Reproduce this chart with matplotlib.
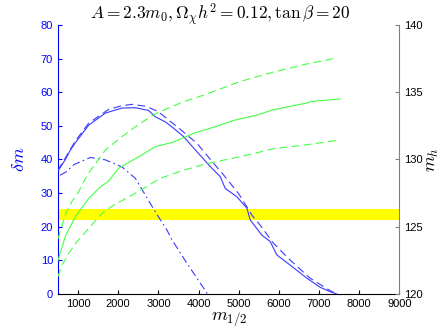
import matplotlib
matplotlib.use('Agg')
import matplotlib.pyplot as plt

plt.rcParams['font.family'] = ['Liberation Sans', 'DejaVu Sans']
plt.rcParams['mathtext.fontset'] = 'cm'

# blue curves: delta m (left axis)
m_solid = [500, 684, 808, 933, 1264, 1679, 2095, 2426, 2754, 2923, 3172, 3379, 3627, 3961,
           4292, 4540, 4665, 4956, 5205, 5287, 5578, 5784, 5951, 6280, 6698, 7026, 7275, 7444]
dm_solid = [36.6, 40.0, 42.8, 45.0, 50.2, 53.8, 55.3, 55.4, 54.6, 52.7, 51.2, 49.3, 46.8, 42.3,
            37.9, 34.9, 31.4, 28.9, 25.5, 22.0, 17.5, 15.6, 11.6, 8.6, 4.7, 2.0, 0.7, 0.0]

m_dash = [500, 684, 933, 1264, 1761, 2093, 2344, 2700, 3003, 3254, 3463, 3961, 4374, 4623,
          4996, 5326, 5533, 5865, 6280, 6778, 7275, 7444]
dm_dash = [36.8, 40.5, 45.5, 50.8, 54.9, 56.0, 56.4, 55.8, 54.2, 51.7, 49.8, 44.8, 38.9, 35.4,
           29.9, 23.5, 20.5, 15.1, 10.1, 4.7, 1.0, 0.0]

m_dashdot = [550, 700, 900, 1306, 1677, 2093, 2425, 2921, 3214, 3339, 3712, 4225]
dm_dashdot = [35.3, 36.3, 38.5, 40.6, 39.9, 37.8, 34.4, 24.5, 19.0, 16.1, 9.1, 0.0]

# green curves: m_h (right axis)
m_gup = [500, 684, 850, 1015, 1137, 1264, 1677, 2093, 2507, 2921, 3627, 4045, 5040, 5865, 6695, 7360]
mh_gup = [124.1, 125.9, 126.9, 127.6, 128.35, 129.0, 130.7, 131.7, 132.6, 133.4, 134.3, 134.7,
          135.8, 136.5, 137.1, 137.5]

m_gmid = [500, 684, 933, 1264, 1513, 1761, 2010, 2507, 2921, 3379, 3876, 4374, 4871, 5453,
          5865, 6695, 6778, 7524]
mh_gmid = [122.5, 124.3, 125.75, 127.1, 127.85, 128.4, 129.35, 130.2, 130.95, 131.3, 131.95,
           132.4, 132.9, 133.3, 133.7, 134.2, 134.3, 134.5]

m_glow = [500, 602, 764, 975, 1182, 1597, 1886, 2548, 3045, 3627, 4209, 4871, 5453, 5865, 6695, 7524]
mh_glow = [121.3, 122.15, 123.0, 123.9, 124.6, 126.0, 126.6, 127.7, 128.6, 129.2, 129.7, 130.1,
           130.5, 130.8, 131.1, 131.45]

band_dm = (22.0, 25.2)

blue = '#3a3aff'
green = '#44ff44'

fig = plt.figure(figsize=(4.41, 3.32), dpi=100)
ax = fig.add_axes([0.1315, 0.1145, 0.774, 0.8102])
ax2 = ax.twinx()

ax.axhspan(band_dm[0], band_dm[1], color='#ffff00', lw=0, zorder=1)
ax.plot(m_solid, dm_solid, color=blue, lw=0.8, zorder=3)
ax.plot(m_dash, dm_dash, color=blue, lw=0.8, dashes=(7, 4), zorder=3)
ax.plot(m_dashdot, dm_dashdot, color=blue, lw=0.8, dashes=(7, 3, 1.5, 3), zorder=3)

ax2.plot(m_gup, mh_gup, color=green, lw=0.8, dashes=(7, 4))
ax2.plot(m_gmid, mh_gmid, color=green, lw=0.8)
ax2.plot(m_glow, mh_glow, color=green, lw=0.8, dashes=(7, 4))

ax.set_xlim(500, 9000)
ax.set_ylim(0, 80)
ax2.set_ylim(120, 140)
ax.set_xticks(range(1000, 9001, 1000))
ax.set_yticks(range(0, 81, 10))
ax2.set_yticks(range(120, 141, 5))

ax.spines['top'].set_visible(False)
ax2.spines['top'].set_visible(False)
ax.spines['right'].set_visible(False)
ax2.spines['left'].set_visible(False)
ax2.spines['bottom'].set_visible(False)
ax.spines['left'].set_color('blue')
ax2.spines['right'].set_color('#808080')

ax.tick_params(axis='y', direction='in', colors='blue', labelsize=8, length=3)
ax.tick_params(axis='x', direction='in', labelsize=8, length=3)
ax2.tick_params(axis='y', direction='in', colors='#808080', labelcolor='black', labelsize=8, length=3)

ax.set_ylabel(r'$\delta m$', color='blue', fontsize=13, labelpad=9)
ax2.set_ylabel(r'$m_h$', fontsize=13, labelpad=1)
ax.set_xlabel(r'$m_{1/2}$', fontsize=13, labelpad=1)
fig.text(0.5, 0.94, r'$A = 2.3m_0, \Omega_\chi h^2 = 0.12, \tan\beta = 20$',
         fontsize=12.5, ha='center', va='baseline')

fig.savefig('out.png', dpi=100)
